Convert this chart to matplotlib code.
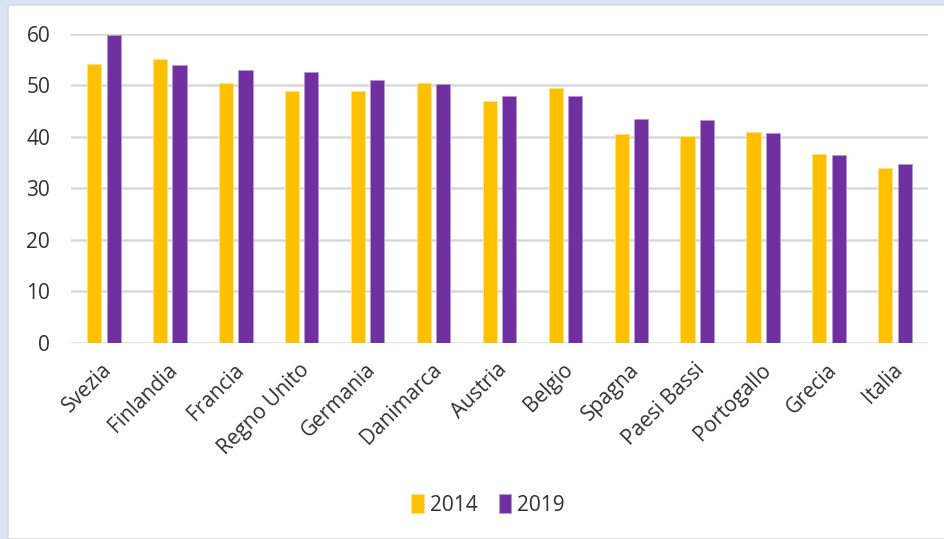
import matplotlib
matplotlib.use('Agg')
import matplotlib.pyplot as plt
from matplotlib.patches import Rectangle
import numpy as np

COUNTRIES = ['Svezia', 'Finlandia', 'Francia', 'Regno Unito', 'Germania', 'Danimarca',
             'Austria', 'Belgio', 'Spagna', 'Paesi Bassi', 'Portogallo', 'Grecia', 'Italia']
VALUES_2014 = [54.2, 55.2, 50.5, 49.0, 49.0, 50.5, 47.0, 49.5, 40.5, 40.2, 40.9, 36.7, 34.0]
VALUES_2019 = [59.9, 54.0, 53.0, 52.7, 51.0, 50.2, 47.9, 47.9, 43.5, 43.2, 40.7, 36.5, 34.7]
SERIES = ['2014', '2019']
Y_TICKS = [0, 10, 20, 30, 40, 50, 60]

YELLOW = '#FFC000'
PURPLE = '#7030A0'
TEXT = '#303030'
GRID = '#D9D9D9'

plt.rcParams['font.family'] = ['Open Sans', 'DejaVu Sans']

fig = plt.figure(figsize=(9.44, 5.39), dpi=100, facecolor='#DAE3F3')
# white chart panel inside the blue frame
fig.patches.append(Rectangle((8 / 944, 0), 1, 1 - 5 / 539, transform=fig.transFigure,
                             facecolor='white', edgecolor=GRID, linewidth=1.2, zorder=-1))

ax = fig.add_axes([0.0752, 0.3642, 0.983 - 0.0752, 0.9369 - 0.3642])
ax.set_facecolor('none')
ax.set_zorder(2)

x = np.arange(len(COUNTRIES))
width = 0.215
offset = 0.147
b1 = ax.bar(x - offset, VALUES_2014, width, color=YELLOW, edgecolor='#FFE38A', linewidth=0.6,
            label=SERIES[0], zorder=3)
b2 = ax.bar(x + offset, VALUES_2019, width, color=PURPLE, edgecolor='#B79AD0', linewidth=0.6,
            label=SERIES[1], zorder=3)

ax.set_xlim(-0.5, len(COUNTRIES) - 0.5)
ax.set_ylim(0, 60)
ax.set_yticks(Y_TICKS)
ax.yaxis.grid(True, color=GRID, linewidth=1.8, zorder=0)
ax.set_axisbelow(True)
for s in ax.spines.values():
    s.set_visible(False)

ax.tick_params(axis='y', length=0, pad=15, labelsize=15, labelcolor=TEXT)
ax.tick_params(axis='x', length=0, pad=12, labelsize=15, labelcolor=TEXT)
ax.set_xticks(x - 0.04)
ax.set_xticklabels(COUNTRIES, rotation=45, ha='right', rotation_mode='anchor')

fig.legend(handles=[b1, b2], labels=SERIES, loc='center', bbox_to_anchor=(0.517, 0.063),
           ncol=2, frameon=False, fontsize=15, handlelength=0.6, handleheight=1.0,
           handletextpad=0.3, columnspacing=1.0, labelcolor=TEXT)

fig.savefig('out.png', dpi=100, facecolor=fig.get_facecolor())
